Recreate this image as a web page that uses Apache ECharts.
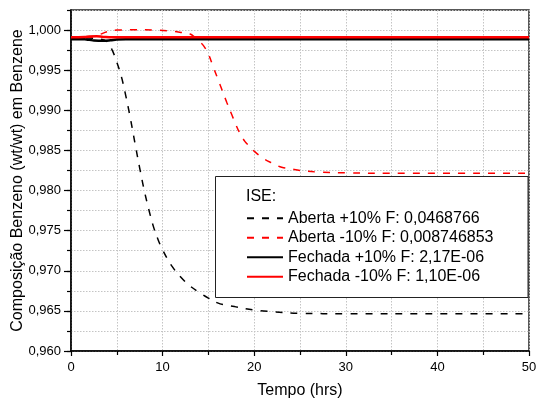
<!DOCTYPE html>
<html>
<head>
<meta charset="utf-8">
<script src="https://cdn.jsdelivr.net/npm/echarts@6/dist/echarts.min.js"></script>
<style>html,body{margin:0;padding:0;background:#fff}#c{width:537px;height:405px}</style>
</head>
<body>
<div id="c"></div>
<script>
// ---- data ----
var seriesNames = [
  'Aberta +10% F: 0,0468766',
  'Aberta -10% F: 0,008746853',
  'Fechada +10% F: 2,17E-06',
  'Fechada -10% F: 1,10E-06'
];
var legendTitle = 'ISE:';
var xAxisTitle = 'Tempo (hrs)';
var yAxisTitle = 'Composição Benzeno (wt/wt) em Benzene';
var yMajorTicks = [0.960, 0.965, 0.970, 0.975, 0.980, 0.985, 0.990, 0.995, 1.000];

var tAbertaMais = [0, 1, 2, 3, 3.5, 4, 4.5, 5, 5.5, 6, 6.5, 7, 7.5, 8, 8.5, 9, 9.5, 10, 11, 12, 13, 14, 15, 16, 17, 18, 20, 22, 25, 30, 40, 50];
var vAbertaMais = [0.9990, 0.9990, 0.9990, 0.9989, 0.9988, 0.9985, 0.9975, 0.9960, 0.9942, 0.9917, 0.9889, 0.9858, 0.9828, 0.9800, 0.9776, 0.9755, 0.9739, 0.9726, 0.9706, 0.9692, 0.9681, 0.9673, 0.9666, 0.9660, 0.9657, 0.9655, 0.9651, 0.9649, 0.9647, 0.96465, 0.96465, 0.96465];

var tAbertaMenos = [0, 1, 2, 3, 4, 5, 7, 9, 11, 12, 13, 13.5, 14, 14.5, 15, 15.5, 16, 16.5, 17, 17.5, 18, 18.5, 19, 19.5, 20, 21, 22, 23, 24, 25, 27, 30, 35, 50];
var vAbertaMenos = [0.9990, 0.9990, 0.9991, 0.9994, 0.9998, 1.0000, 1.00003, 1.0000, 0.99985, 0.9997, 0.9995, 0.9991, 0.9986, 0.9980, 0.9970, 0.9955, 0.9940, 0.9925, 0.9910, 0.9896, 0.9882, 0.9870, 0.9861, 0.9855, 0.9849, 0.9840, 0.9834, 0.9829, 0.9827, 0.9825, 0.9823, 0.9822, 0.98215, 0.98215];

var tFechadaMais = [0, 1.5, 2, 2.5, 3.5, 4.3, 5, 6, 50];
var vFechadaMais = [0.99884, 0.99884, 0.99878, 0.99870, 0.99866, 0.99872, 0.99882, 0.99884, 0.99884];

var tFechadaMenos = [0, 1.5, 2, 2.8, 3.5, 4.5, 50];
var vFechadaMenos = [0.99909, 0.99912, 0.99920, 0.99922, 0.99915, 0.99909, 0.99909];

function pairs(t, v) { return t.map(function (x, i) { return [x, v[i]]; }); }

var FONT = '"Liberation Sans", Arial, sans-serif';
var chart = echarts.init(document.getElementById('c'), null, { renderer: 'canvas' });

var dotted = { color: '#c4c4c4', width: 1, type: [1.5, 1.5] };

chart.setOption({
  animation: false,
  backgroundColor: '#fff',
  grid: { left: 71, right: 8, top: 10, bottom: 54, containLabel: false, outerBoundsMode: 'none',
          show: true, borderColor: '#222', borderWidth: 1.5, backgroundColor: 'transparent' },
  xAxis: {
    type: 'value', min: 0, max: 50, interval: 10,
    name: xAxisTitle, nameLocation: 'middle', nameGap: 32, nameMoveOverlap: false,
    nameTextStyle: { fontFamily: FONT, fontSize: 16, color: '#000' },
    axisLine: { show: true, lineStyle: { color: '#000', width: 1.5 } },
    axisTick: { show: true, inside: false, length: 5, lineStyle: { color: '#000', width: 1.2 } },
    minorTick: { show: true, splitNumber: 2, length: 4, lineStyle: { color: '#000', width: 1.2 } },
    axisLabel: { fontFamily: FONT, fontSize: 13, color: '#000', margin: 10 },
    splitLine: { show: true, lineStyle: dotted },
    minorSplitLine: { show: true, lineStyle: dotted }
  },
  yAxis: [{
    type: 'value', min: 0.96, max: 1.0025, interval: 0.0025,
    name: yAxisTitle, nameLocation: 'middle', nameGap: 45, nameMoveOverlap: false,
    nameTextStyle: { fontFamily: FONT, fontSize: 16, color: '#000' },
    axisLine: { show: true, lineStyle: { color: '#000', width: 1.5 } },
    axisTick: { show: true, length: 4, lineStyle: { color: '#000', width: 1.2 } },
    axisLabel: {
      fontFamily: FONT, fontSize: 13, color: '#000', margin: 10,
      formatter: function (v) {
        if (Math.round(v * 400) % 2 !== 0) return '';
        return v.toFixed(3).replace('.', ',');
      }
    },
    splitLine: { show: true, lineStyle: dotted }
  }, {
    type: 'value', min: 0.96, max: 1.0025, interval: 0.005, position: 'left',
    axisLine: { show: false },
    axisTick: { show: true, length: 7, customValues: yMajorTicks, lineStyle: { color: '#000', width: 1.2 } },
    axisLabel: { show: false },
    splitLine: { show: false }
  }],
  legend: {
    orient: 'vertical', left: 246, top: 208.5, padding: 0,
    itemWidth: 36, itemHeight: 14, itemGap: 0,
    itemStyle: { opacity: 0, color: 'transparent', borderWidth: 0 },
    textStyle: { fontFamily: FONT, fontSize: 16, color: '#000', lineHeight: 19.5 },
    data: seriesNames, selectedMode: false
  },
  graphic: [
    { type: 'rect', z: 3, shape: { x: 215.5, y: 176.5, width: 312.5, height: 121 },
      style: { fill: '#fff', stroke: '#222', lineWidth: 1 } },
    { type: 'text', z: 5, x: 246, y: 196.5,
      style: { text: legendTitle, font: '16px ' + FONT, fill: '#000', textVerticalAlign: 'middle', verticalAlign: 'middle' } }
  ],
  series: [
    { name: seriesNames[0], type: 'line', data: pairs(tAbertaMais, vAbertaMais), smooth: 0.4, symbol: 'none',
      lineStyle: { color: '#000', width: 1.5, type: [7, 8] }, itemStyle: { color: '#000' } },
    { name: seriesNames[1], type: 'line', data: pairs(tAbertaMenos, vAbertaMenos), smooth: 0.4, symbol: 'none',
      lineStyle: { color: '#ff0000', width: 1.5, type: [7, 8] }, itemStyle: { color: '#ff0000' } },
    { name: seriesNames[2], type: 'line', data: pairs(tFechadaMais, vFechadaMais), smooth: 0.4, symbol: 'none',
      lineStyle: { color: '#000', width: 2.5, type: 'solid' }, itemStyle: { color: '#000' } },
    { name: seriesNames[3], type: 'line', data: pairs(tFechadaMenos, vFechadaMenos), smooth: 0.4, symbol: 'none',
      lineStyle: { color: '#ff0000', width: 2.5, type: 'solid' }, itemStyle: { color: '#ff0000' } }
  ]
});
</script>
</body>
</html>
